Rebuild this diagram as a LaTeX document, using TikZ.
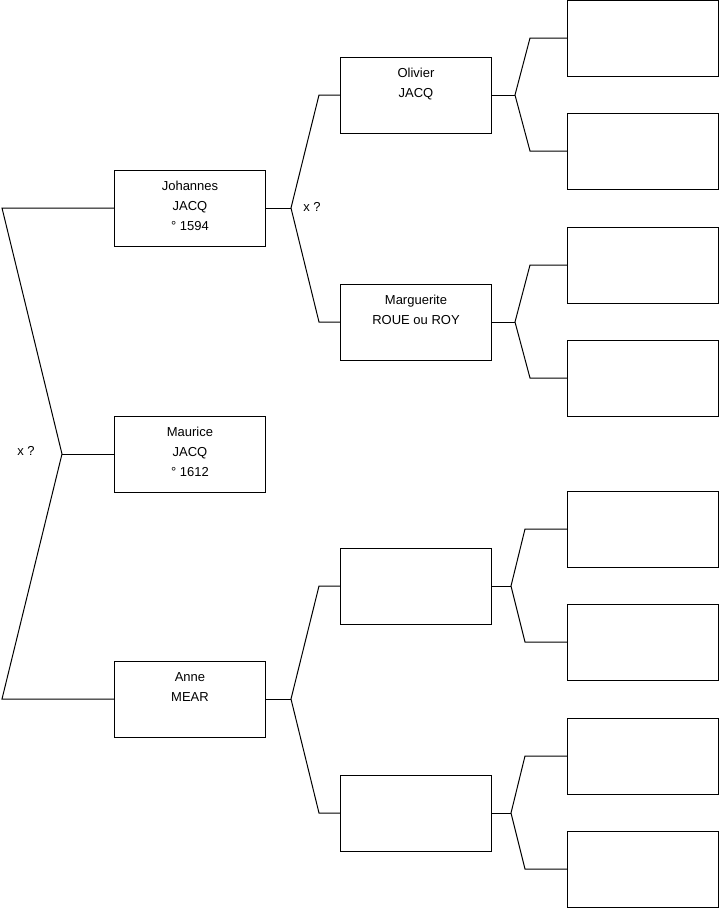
\documentclass[tikz,border=0pt]{standalone}
\usepackage{fontspec}
\setmainfont{Liberation Sans}
\begin{document}
\begin{tikzpicture}[x=1pt,y=-1pt,line width=1pt,
  pbox/.style={draw,minimum width=151pt,minimum height=76pt,inner sep=0pt},
  ptext/.style={anchor=north,align=center,inner sep=0pt,font=\fontsize{13}{20}\selectfont},
  lbl/.style={inner sep=0pt,font=\fontsize{13}{16}\selectfont},
  link/.style={draw,line join=miter}]
\useasboundingbox (0,0) rectangle (719,908);
% generation 1-2
\node[pbox] (J) at (190,208) {};
\node[pbox] (M) at (190,454) {};
\node[pbox] (A) at (190,699) {};
% generation 3
\node[pbox] (O) at (416,95) {};
\node[pbox] (G) at (416,322) {};
\node[pbox] (E1) at (416,586) {};
\node[pbox] (E2) at (416,813) {};
% generation 4
\node[pbox] (R1) at (643,38) {};
\node[pbox] (R2) at (643,151) {};
\node[pbox] (R3) at (643,265) {};
\node[pbox] (R4) at (643,378) {};
\node[pbox] (R5) at (643,529) {};
\node[pbox] (R6) at (643,642) {};
\node[pbox] (R7) at (643,756) {};
\node[pbox] (R8) at (643,869) {};
% texts
\node[ptext] (tJ) at ([yshift=-11.5pt]J.north) {Johannes\\JACQ\\° 1594};
\node[ptext] (tM) at ([yshift=-11.5pt]M.north) {Maurice\\JACQ\\° 1612};
\node[ptext] (tA) at ([yshift=-11.5pt]A.north) {Anne\\MEAR};
\node[ptext] (tO) at ([yshift=-11.5pt]O.north) {Olivier\\JACQ};
\node[ptext] (tG) at ([yshift=-11.5pt]G.north) {Marguerite\\ROUE ou ROY};
\node[lbl] (x1) at (26,451) {x ?};
\node[lbl] (x2) at (312,207) {x ?};
% fork coordinates
\coordinate (c1) at (2,208);
\coordinate (c2) at (2,699);
\coordinate (f0) at (62,454);
\coordinate (fJ) at (291,208);
\coordinate (jO) at (319,95);
\coordinate (jG) at (319,322);
\coordinate (fA) at (291,699);
\coordinate (aE1) at (319,586);
\coordinate (aE2) at (319,813);
\coordinate (fO) at (515,95);
\coordinate (o1) at (530,38);
\coordinate (o2) at (530,151);
\coordinate (fG) at (515,322);
\coordinate (g1) at (530,265);
\coordinate (g2) at (530,378);
\coordinate (fE1) at (511,586);
\coordinate (e11) at (525,529);
\coordinate (e12) at (525,642);
\coordinate (fE2) at (511,813);
\coordinate (e21) at (525,756);
\coordinate (e22) at (525,869);
% connectors
\path[link] (J.west) -- (c1) -- (f0) -- (c2) -- (A.west);
\path[link] (f0) -- (M.west);
\path[link] (J.east) -- (fJ);
\path[link] (O.west) -- (jO) -- (fJ) -- (jG) -- (G.west);
\path[link] (A.east) -- (fA);
\path[link] (E1.west) -- (aE1) -- (fA) -- (aE2) -- (E2.west);
\path[link] (O.east) -- (fO);
\path[link] (R1.west) -- (o1) -- (fO) -- (o2) -- (R2.west);
\path[link] (G.east) -- (fG);
\path[link] (R3.west) -- (g1) -- (fG) -- (g2) -- (R4.west);
\path[link] (E1.east) -- (fE1);
\path[link] (R5.west) -- (e11) -- (fE1) -- (e12) -- (R6.west);
\path[link] (E2.east) -- (fE2);
\path[link] (R7.west) -- (e21) -- (fE2) -- (e22) -- (R8.west);
\end{tikzpicture}
\end{document}
